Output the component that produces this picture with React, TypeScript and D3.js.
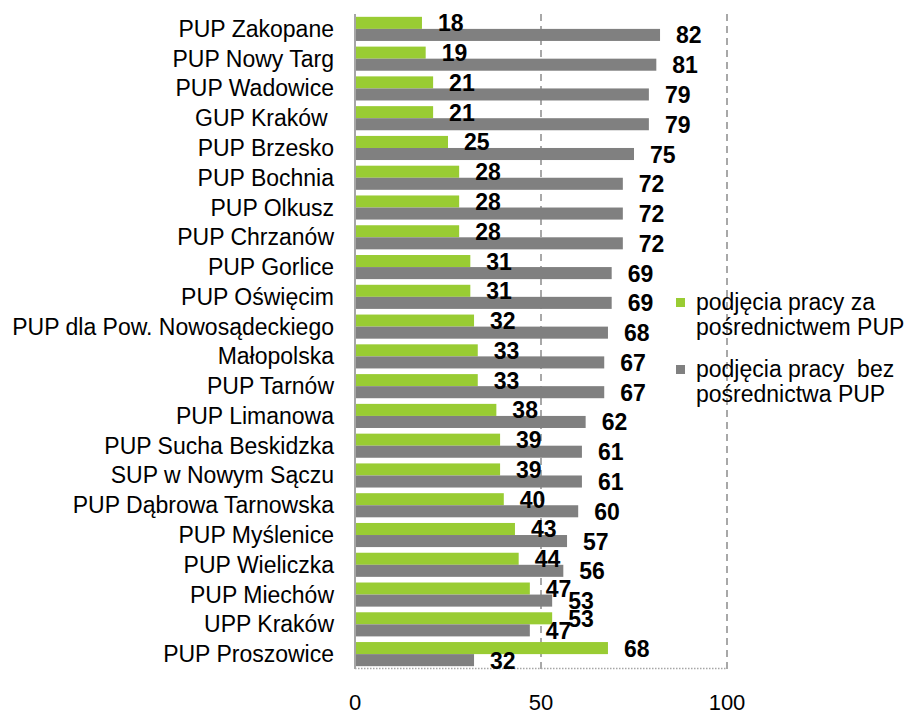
import React from "react";
import * as d3 from "d3";

const categories = [
  "PUP Zakopane",
  "PUP Nowy Targ",
  "PUP Wadowice",
  "GUP Kraków ",
  "PUP Brzesko",
  "PUP Bochnia",
  "PUP Olkusz",
  "PUP Chrzanów",
  "PUP Gorlice",
  "PUP Oświęcim",
  "PUP dla Pow. Nowosądeckiego",
  "Małopolska",
  "PUP Tarnów",
  "PUP Limanowa",
  "PUP Sucha Beskidzka",
  "SUP w Nowym Sączu",
  "PUP Dąbrowa Tarnowska",
  "PUP Myślenice",
  "PUP Wieliczka",
  "PUP Miechów",
  "UPP Kraków",
  "PUP Proszowice",
];

const withPup = [18, 19, 21, 21, 25, 28, 28, 28, 31, 31, 32, 33, 33, 38, 39, 39, 40, 43, 44, 47, 53, 68];
const withoutPup = [82, 81, 79, 79, 75, 72, 72, 72, 69, 69, 68, 67, 67, 62, 61, 61, 60, 57, 56, 53, 47, 32];

const xTicks = [0, 50, 100];
const gridTicks = [50, 100];

const seriesNames = [
  ["podjęcia pracy za", "pośrednictwem PUP"],
  ["podjęcia pracy  bez", "pośrednictwa PUP"],
];

const GREEN = "#99CC33";
const GRAY = "#808080";
const FONT = "'Liberation Sans', Arial, sans-serif";

export default function App() {
  const x = d3.scaleLinear().domain([0, 100]).range([355, 727]);
  const y = d3.scaleBand<string>().domain(categories).range([14, 669]).paddingInner(0.19).paddingOuter(0.095);
  const inner = d3.scaleBand<string>().domain(["a", "b"]).range([0, y.bandwidth()]);
  const series = [
    { key: "a", values: withPup, color: GREEN },
    { key: "b", values: withoutPup, color: GRAY },
  ];
  const top = y.range()[0];
  const bottom = y.range()[1];

  return (
    <svg
      width={906}
      height={715}
      style={{ position: "absolute", left: 0, top: 0, background: "#fff" }}
      fontFamily={FONT}
    >
      {/* grid lines */}
      {gridTicks.map((t) => (
        <line
          key={"g" + t}
          x1={x(t)}
          x2={x(t)}
          y1={top}
          y2={bottom}
          stroke="#8c8c8c"
          strokeWidth={1.5}
          strokeDasharray="7,5"
        />
      ))}
      {/* bottom dotted line */}
      <line x1={x(0)} x2={x(100)} y1={bottom - 0.5} y2={bottom - 0.5} stroke="#a6a6a6" strokeWidth={1.5} strokeDasharray="1.5,1.5" />

      {/* bars */}
      {series.map((s) =>
        categories.map((c, i) => (
          <rect
            key={s.key + i}
            x={x(0)}
            y={(y(c) as number) + (inner(s.key) as number)}
            width={x(s.values[i]) - x(0)}
            height={inner.bandwidth()}
            fill={s.color}
          />
        ))
      )}
      {/* left axis line */}
      <line x1={x(0)} x2={x(0)} y1={top} y2={bottom} stroke="#a6a6a6" strokeWidth={2} />

      {/* value labels */}
      {series.map((s) =>
        categories.map((c, i) => (
          <text
            key={"v" + s.key + i}
            x={x(s.values[i]) + 16}
            y={(y(c) as number) + (inner(s.key) as number) + inner.bandwidth() / 2 + 8.5}
            fontSize={23}
            fontWeight="bold"
            fill="#000"
          >
            {s.values[i]}
          </text>
        ))
      )}

      {/* category labels */}
      {categories.map((c) => (
        <text
          key={"c" + c}
          x={334}
          y={(y(c) as number) + y.bandwidth() / 2 + 8}
          textAnchor="end"
          fontSize={23}
          fill="#000"
          style={{ whiteSpace: "pre" }}
        >
          {c}
        </text>
      ))}

      {/* x tick labels */}
      {xTicks.map((t) => (
        <text key={"t" + t} x={x(t)} y={710} textAnchor="middle" fontSize={22} fill="#000">
          {t}
        </text>
      ))}

      {/* legend */}
      {series.map((s, k) => {
        const base = 310 + k * 67;
        return (
          <g key={"l" + k}>
            <rect x={676} y={base - 12} width={9} height={9} fill={s.color} />
            {seriesNames[k].map((line, j) => (
              <text key={j} x={696} y={base + j * 25} fontSize={23} fill="#000" style={{ whiteSpace: "pre" }}>
                {line}
              </text>
            ))}
          </g>
        );
      })}
    </svg>
  );
}
